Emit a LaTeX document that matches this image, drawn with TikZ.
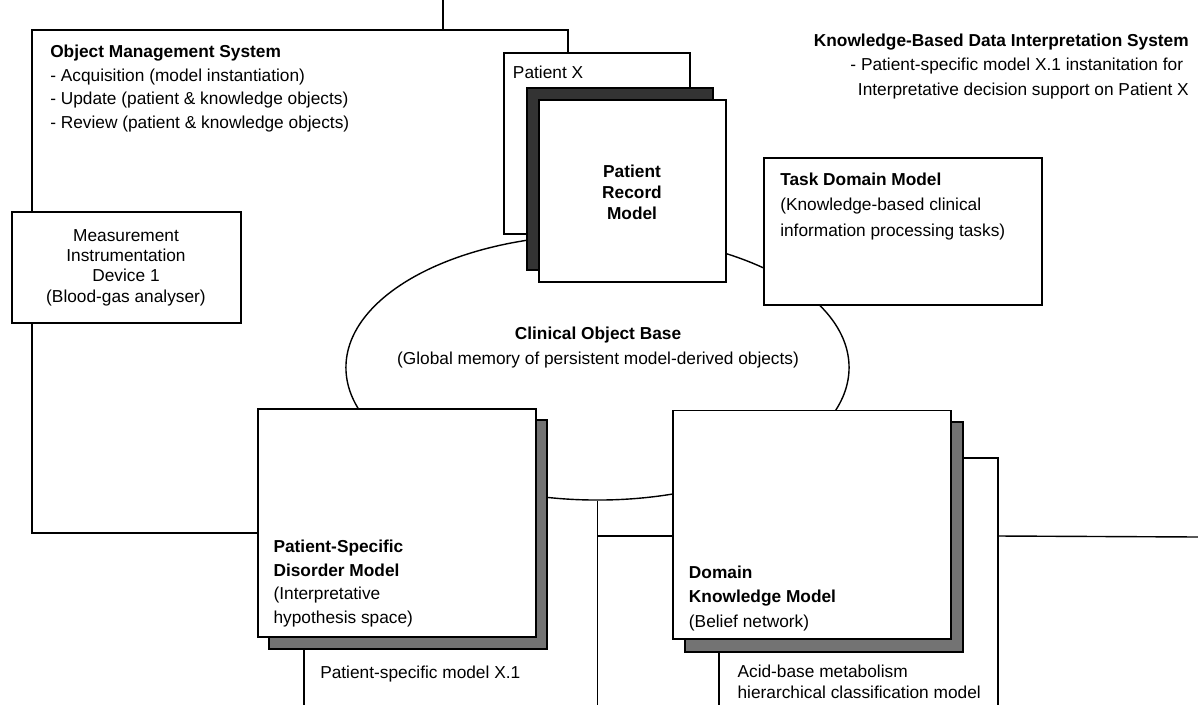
\documentclass[tikz,border=0pt]{standalone}
\usepackage{fontspec}
\setmainfont{Liberation Sans}
\usetikzlibrary{positioning, fit, shapes.geometric}

\newcommand{\diagfont}[1]{\fontsize{12.3pt}{#1}\selectfont}

\tikzset{
  box/.style={draw, fill=white, line width=1.2pt, inner sep=0pt},
  shadowbox/.style={draw, fill=black!55, line width=1.2pt, inner sep=0pt},
  darkshadow/.style={draw, fill=black!80, line width=1.2pt, inner sep=0pt},
  wire/.style={line width=1pt},
  txt/.style={inner sep=0pt, align=left, anchor=base west},
}

\begin{document}
\begin{tikzpicture}[x=0.025cm, y=-0.025cm]
	\useasboundingbox (0,0) rectangle (1198,705);
	% clinical object base
	\node[draw, ellipse, line width=1pt, inner sep=0pt, minimum width=12.575cm, minimum height=6.625cm] (cob) at (597.5,367.5) {};
	% shadows
	\node[shadowbox, fit={(269,420) (547,649)}] (psdmsh) {};
	\node[shadowbox, fit={(685,422) (963,652)}] (dkmsh) {};
	% boxes
	\node[box, fit={(11.7,211.7) (240.7,323)}] (meas) {};
	\node[box, fit={(504,53) (690,234)}] (px) {};
	\node[darkshadow, fit={(527,88) (713,270)}] (prmsh) {};
	\node[box, fit={(539,100) (726,282)}] (prm) {};
	\node[box, fit={(764,158) (1042,305)}] (tdm) {};
	\node[box, fit={(258,409) (536,637)}] (psdm) {};
	\node[box, fit={(673,410.5) (950.7,639)}] (dkm) {};
	% frame points
	\coordinate (topend) at (443,0);
	\coordinate (omscorner) at (32,30);
	\coordinate (omsbend) at (32,533);
	\coordinate (bottom) at (0,705);
	\coordinate (knowrow) at (0,536);
	\coordinate (psdmleg) at (304,705);
	\coordinate (dkmleg) at (719,705);
	\coordinate (kbframe) at (998,458);
	\coordinate (rightend) at (1198,537);
	% connectors
	\draw[wire] (topend) -- (topend |- omscorner);
	\draw[wire] (px.north west) ++(65,0) |- (omscorner) -- (meas.north -| omscorner);
	\draw[wire] (meas.south -| omscorner) -- (omsbend) -- (omsbend -| psdm.west);
	\draw[wire] (cob.south) -- (cob.south |- bottom);
	\draw[wire] (cob.south |- knowrow) -- (dkm.west |- knowrow);
	\draw[wire] (psdmleg |- psdmsh.south) -- (psdmleg);
	\draw[wire] (dkmleg |- dkmsh.south) -- (dkmleg);
	\draw[wire] (kbframe -| dkmsh.east) -- (kbframe) -- (kbframe |- bottom);
	\draw[wire] (kbframe |- knowrow) -- (rightend);
	% texts (base = last line)
	\node[txt, font=\diagfont{16.6pt}] (omstxt) at (50,128) {\textbf{Object Management System}\\- Acquisition (model instantiation)\\- Update (patient \& knowledge objects)\\- Review (patient \& knowledge objects)};
	\node[txt, font=\diagfont{16.6pt}] (pxtxt) at (512.7,78) {Patient X};
	\node[txt, align=center, anchor=base, font=\diagfont{14.9pt}\bfseries] (prmtxt) at (632,219) {Patient\\Record\\Model};
	\node[txt, font=\diagfont{17.8pt}] (tdmtxt) at (780,236) {\textbf{Task Domain Model}\\(Knowledge-based clinical\\information processing tasks)};
	\node[txt, align=right, anchor=base east, font=\diagfont{17.4pt}] (kbtxt) at (1189,95) {\textbf{Knowledge-Based Data Interpretation System}\\- Patient-specific model X.1 instanitation for\kern4pt\\Interpretative decision support on Patient X};
	\node[txt, align=center, anchor=base, font=\diagfont{14.4pt}] (meastxt) at (126,302) {Measurement\\Instrumentation\\Device 1\\(Blood-gas analyser)};
	\node[txt, align=center, anchor=base, font=\diagfont{17.3pt}] (cobtxt) at (598,364) {\textbf{Clinical Object Base}\\(Global memory of persistent model-derived objects)};
	\node[txt, font=\diagfont{16.6pt}] (psdmtxt) at (273.3,623) {\textbf{Patient-Specific}\\\textbf{Disorder Model}\\(Interpretative\\hypothesis space)};
	\node[txt, font=\diagfont{17.4pt}] (dkmtxt) at (688.7,627) {\textbf{Domain}\\\textbf{Knowledge Model}\\(Belief network)};
	\node[txt, font=\diagfont{16.6pt}] (psmtxt) at (320,678) {Patient-specific model X.1};
	\node[txt, font=\diagfont{14.7pt}] (abtxt) at (737.3,698) {Acid-base metabolism\\hierarchical classification model};
\end{tikzpicture}
\end{document}
